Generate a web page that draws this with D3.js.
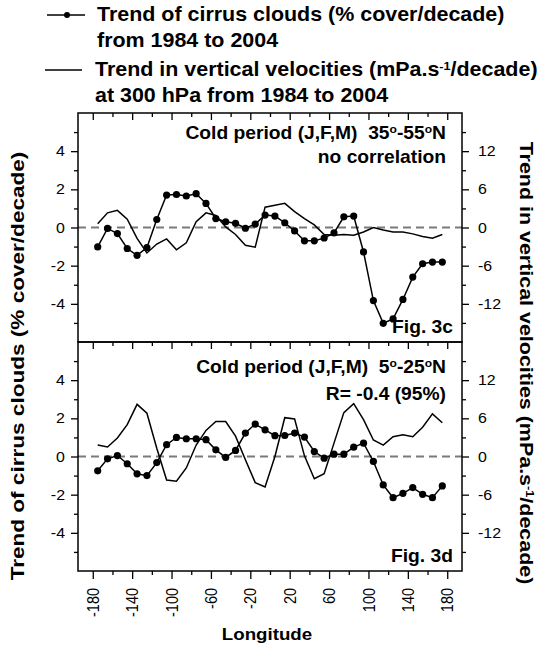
<!DOCTYPE html>
<html>
<head>
<meta charset="utf-8">
<script src="https://cdn.jsdelivr.net/npm/d3@7"></script>
<style>
body { margin: 0; background: #fff; }
text { font-family: "Liberation Sans", Arial, sans-serif; fill: #000; }
</style>
</head>
<body>
<div class="container"></div>
<script>
// longitude of each sample (deg)
let longitudes = [-175, -165, -155, -145, -135, -125, -115, -105, -95, -85, -75, -65, -55, -45, -35, -25, -15, -5,
    5, 15, 25, 35, 45, 55, 65, 75, 85, 95, 105, 115, 125, 135, 145, 155, 165, 175];

// Fig. 3c, 35-55N : cirrus trend (% cover/decade) and omega trend (mPa.s-1/decade)
let cirrus3c = [-1.02, -0.05, -0.32, -1.1, -1.46, -1.05, 0.42, 1.7, 1.73, 1.65, 1.77, 1.26, 0.47, 0.3, 0.22, -0.04, 0.18, 0.65,
    0.6, 0.25, -0.18, -0.7, -0.7, -0.55, -0.28, 0.56, 0.6, -1.28, -3.83, -5.02, -4.79, -3.77, -2.6, -1.9, -1.81, -1.81];
let omega3c = [0.6, 2.3, 2.7, 1.3, -1.7, -4.0, -2.6, -1.8, -3.5, -2.4, 0.9, 2.3, 1.9, 0.1, -1.1, -2.8, -3.1, 3.2,
    3.5, 3.8, 2.5, 1.4, 0.4, -1.1, -1.2, -1.1, -1.2, -0.7, 0, -0.4, -0.7, -0.7, -1.0, -1.4, -1.7, -1.1];

// Fig. 3d, 5-25N
let cirrus3d = [-0.75, -0.12, 0.05, -0.38, -0.91, -1.0, -0.32, 0.62, 1.0, 0.93, 0.93, 0.88, 0.35, -0.05, 0.32, 1.23, 1.7, 1.4,
    1.09, 1.1, 1.23, 1.02, 0.26, -0.09, 0.12, 0.12, 0.49, 0.7, -0.26, -1.49, -2.16, -1.93, -1.63, -1.98, -2.16, -1.54];
let omega3d = [1.8, 1.5, 2.9, 5.0, 8.2, 6.8, 1.3, -3.7, -3.9, -1.8, 1.8, 4.1, 5.5, 5.5, 3.2, -0.5, -4.1, -4.8,
    0, 6.1, 5.9, 0.1, -3.5, -2.7, 2.1, 6.9, 8.3, 5.8, 2.6, 1.8, 3.1, 3.4, 3.1, 4.6, 6.7, 5.3];

let xLabels = [-180, -140, -100, -60, -20, 20, 60, 100, 140, 180];
let xMinor = [-160, -120, -80, -40, 0, 40, 80, 120, 160];
let leftLabels = [-4, -2, 0, 2, 4];
let leftMinor = [-5, -3, -1, 1, 3, 5];
let rightLabels = [-12, -6, 0, 6, 12];
let rightMinor = [-15, -9, -3, 3, 9, 15];

let margin = {top: 113, right: 85, bottom: 76, left: 78},
    width = 547,
    height = 647,
    plotW = width - margin.left - margin.right,
    panelH = (height - margin.top - margin.bottom) / 2;

// the original figure text is a bit stretched horizontally
const S = 1.1;
const fontAx = 14.5;

let svg = d3.select(".container")
    .append("svg")
    .attr("width", width)
    .attr("height", height);

let x = d3.scaleLinear()
    .domain([-195, 195])
    .range([margin.left, margin.left + plotW]);

// text with superscript parts: parts = [[string, isSup], ...]
const richText = (sel, parts, supSize) => {
    let shift = 0;
    parts.forEach(p => {
        let ts = sel.append("tspan").text(p[0]);
        if (p[1]) {
            ts.attr("font-size", supSize).attr("dy", -6 - shift);
            shift = -6;
        } else {
            if (shift) ts.attr("dy", -shift);
            shift = 0;
        }
    });
}

const placed = (parent, px, py, extra) => parent.append("text")
    .attr("transform", "translate(" + px + "," + py + ") scale(" + S + ",1)" + (extra || ""));

let panels = [
    {cirrus: cirrus3c, omega: omega3c, top: margin.top, t1: [["Cold period (J,F,M)  35", 0], ["o", 1], ["-55", 0], ["o", 1], ["N", 0]],
        t2: "no correlation", t1y: 139, t2y: 163, fig: "Fig. 3c"},
    {cirrus: cirrus3d, omega: omega3d, top: margin.top + panelH, t1: [["Cold period (J,F,M)  5", 0], ["o", 1], ["-25", 0], ["o", 1], ["N", 0]],
        t2: "R= -0.4 (95%)", t1y: 373, t2y: 400, fig: "Fig. 3d"}
];

panels.forEach((p, i) => {
    let y = d3.scaleLinear().domain([-6, 6]).range([p.top + panelH, p.top]);
    let y2 = d3.scaleLinear().domain([-18, 18]).range([p.top + panelH, p.top]);
    let g = svg.append("g");

    // zero line
    g.append("line")
        .attr("x1", margin.left).attr("x2", margin.left + plotW)
        .attr("y1", y(0)).attr("y2", y(0))
        .attr("stroke", "#7a7a7a")
        .attr("stroke-width", 2)
        .attr("stroke-dasharray", "8,5");

    // vertical velocity
    g.append("path")
        .datum(p.omega)
        .attr("fill", "none")
        .attr("stroke", "#000")
        .attr("stroke-width", 1.5)
        .attr("d", d3.line()
            .x((d, j) => x(longitudes[j]))
            .y(d => y2(d)));

    // cirrus
    g.append("path")
        .datum(p.cirrus)
        .attr("fill", "none")
        .attr("stroke", "#000")
        .attr("stroke-width", 1.5)
        .attr("d", d3.line()
            .x((d, j) => x(longitudes[j]))
            .y(d => y(d)));

    g.selectAll("circle")
        .data(p.cirrus)
        .enter()
        .append("circle")
        .attr("cx", (d, j) => x(longitudes[j]))
        .attr("cy", d => y(d))
        .attr("r", 3.6)
        .attr("fill", "#000");

    // frame
    g.append("rect")
        .attr("x", margin.left).attr("y", p.top)
        .attr("width", plotW).attr("height", panelH)
        .attr("fill", "none")
        .attr("stroke", "#000")
        .attr("stroke-width", 1.5);

    // left axis
    g.append("g")
        .attr("class", "lab-left")
        .attr("transform", "translate(" + margin.left + ",0)")
        .call(d3.axisLeft(y).tickValues(leftLabels).tickSize(7).tickFormat(d => String(d)));
    g.append("g")
        .attr("transform", "translate(" + margin.left + ",0)")
        .call(d3.axisLeft(y).tickValues(leftMinor).tickSize(4).tickFormat(""));

    // right axis
    g.append("g")
        .attr("class", "lab-right")
        .attr("transform", "translate(" + (margin.left + plotW) + ",0)")
        .call(d3.axisRight(y2).tickValues(rightLabels).tickSize(7).tickFormat(d => String(d)));
    g.append("g")
        .attr("transform", "translate(" + (margin.left + plotW) + ",0)")
        .call(d3.axisRight(y2).tickValues(rightMinor).tickSize(4).tickFormat(""));

    // top ticks pointing inside
    g.append("g")
        .attr("transform", "translate(0," + p.top + ")")
        .call(d3.axisBottom(x).tickValues(xLabels).tickSize(7).tickFormat(""));
    g.append("g")
        .attr("transform", "translate(0," + p.top + ")")
        .call(d3.axisBottom(x).tickValues(xMinor).tickSize(4).tickFormat(""));

    g.selectAll(".domain").remove();
    g.selectAll(".tick text").attr("font-size", fontAx).attr("font-family", "Liberation Sans, Arial, sans-serif").attr("fill", "#000");
    g.selectAll(".lab-left .tick text")
        .attr("x", 0)
        .attr("transform", "translate(-13,0) scale(" + S + ",1)");
    g.selectAll(".lab-right .tick text")
        .attr("x", 0)
        .attr("transform", "translate(16,0) scale(" + S + ",1)");

    // panel titles
    let t1 = placed(g, 446, p.t1y)
        .attr("text-anchor", "end")
        .attr("font-size", 17.5)
        .attr("font-weight", "bold")
        .style("white-space", "pre");
    richText(t1, p.t1, 11);

    placed(g, 446, p.t2y)
        .attr("text-anchor", "end")
        .attr("font-size", 17.5)
        .attr("font-weight", "bold")
        .text(p.t2);

    placed(g, 453, p.top + panelH - 9)
        .attr("text-anchor", "end")
        .attr("font-size", 17.5)
        .attr("font-weight", "bold")
        .text(p.fig);
});

// bottom x axis
let bottomY = margin.top + 2 * panelH;
let xa = svg.append("g")
    .attr("transform", "translate(0," + bottomY + ")")
    .call(d3.axisBottom(x).tickValues(xLabels).tickSize(8).tickFormat(d => String(d)));
svg.append("g")
    .attr("transform", "translate(0," + bottomY + ")")
    .call(d3.axisBottom(x).tickValues(xMinor).tickSize(4).tickFormat(""))
    .select(".domain").remove();
xa.select(".domain").remove();
svg.selectAll(".tick line").attr("stroke", "#000").attr("stroke-width", 1.3);
xa.selectAll(".tick text")
    .attr("font-size", fontAx)
    .attr("font-family", "Liberation Sans, Arial, sans-serif")
    .attr("fill", "#000")
    .attr("transform", "scale(" + S + ",1) rotate(-90)")
    .attr("text-anchor", "end")
    .attr("x", -17)
    .attr("y", 0)
    .attr("dy", "0.35em");

placed(svg, 267, 640)
    .attr("text-anchor", "middle")
    .attr("font-size", 17)
    .attr("font-weight", "bold")
    .text("Longitude");

// axis titles (stretched along their length)
svg.append("text")
    .attr("transform", "translate(24,366) scale(1,1.22) rotate(-90)")
    .attr("text-anchor", "middle")
    .attr("font-size", 18.5)
    .attr("font-weight", "bold")
    .text("Trend of cirrus clouds (% cover/decade)");

let rt = svg.append("text")
    .attr("transform", "translate(520,363) scale(1,1.16) rotate(90)")
    .attr("text-anchor", "middle")
    .attr("font-size", 18.5)
    .attr("font-weight", "bold");
richText(rt, [["Trend in vertical velocities (mPa.s", 0], ["-1", 1], ["/decade)", 0]], 11);

// legend
let leg = svg.append("g");
leg.append("line")
    .attr("x1", 47).attr("x2", 85).attr("y1", 15).attr("y2", 15)
    .attr("stroke", "#000").attr("stroke-width", 1.5);
leg.append("circle")
    .attr("cx", 67).attr("cy", 15).attr("r", 3).attr("fill", "#000");
leg.append("line")
    .attr("x1", 45).attr("x2", 82).attr("y1", 70).attr("y2", 70)
    .attr("stroke", "#000").attr("stroke-width", 1.5);

let legRows = [
    {x: 97, y: 21, parts: [["Trend of cirrus clouds (% cover/decade)", 0]]},
    {x: 97, y: 47, parts: [["from 1984 to 2004", 0]]},
    {x: 95, y: 76, parts: [["Trend in vertical velocities (mPa.s", 0], ["-1", 1], ["/decade)", 0]]},
    {x: 95, y: 102, parts: [["at 300 hPa from 1984 to 2004", 0]]}
];
legRows.forEach(r => {
    let t = placed(leg, r.x, r.y)
        .attr("font-size", 19.5)
        .attr("font-weight", "bold");
    richText(t, r.parts, 11.5);
});
</script>
</body>
</html>
